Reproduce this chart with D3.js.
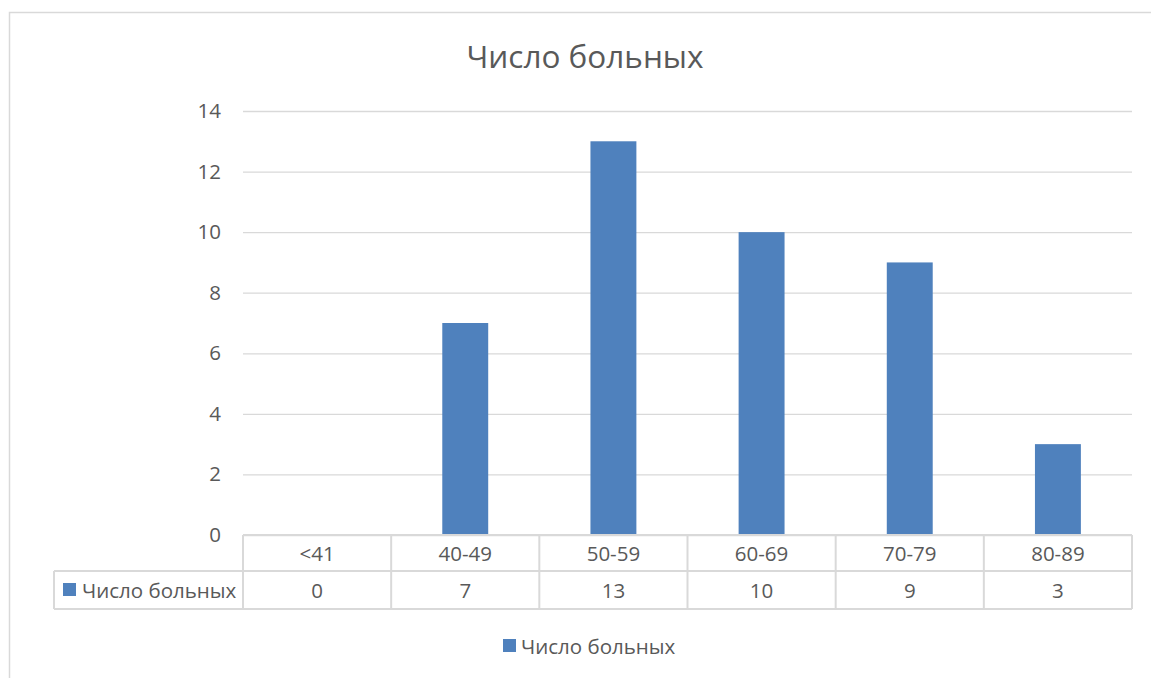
<!DOCTYPE html>
<html>
<head>
<meta charset="utf-8">
<script src="https://cdn.jsdelivr.net/npm/d3@7"></script>
<style>
  html, body { margin: 0; padding: 0; background: #fff; }
  svg { display: block; font-family: "Open Sans", "Noto Sans", sans-serif; }
</style>
</head>
<body>
<svg id="chart" width="1151" height="678"></svg>
<script>
// Age groups and patient counts
const categories = ["<41", "40-49", "50-59", "60-69", "70-79", "80-89"];
const patients = [0, 7, 13, 10, 9, 3];
const yTicks = [0, 2, 4, 6, 8, 10, 12, 14];
const seriesName = "Число больных";
const chartTitle = "Число больных";

const W = 1151, H = 678;
const plot = { left: 243, right: 1132, top: 111, bottom: 535 };
const tableRow1 = 571, tableRow2 = 609, tableLeft = 54;
const barColor = "#4f81bd";
const gridColor = "#d9d9d9";
const textColor = "#595959";
const labelSize = 20.5;

const svg = d3.select("#chart");

// Outer chart border
svg.append("rect")
  .attr("x", 9.5).attr("y", 12.5)
  .attr("width", W + 20).attr("height", H + 20)
  .attr("fill", "none").attr("stroke", gridColor).attr("stroke-width", 1.5);

const x = d3.scaleBand().domain(categories).range([plot.left, plot.right]).paddingInner(0.69).paddingOuter(0.345);
const xCell = d3.scaleBand().domain(categories).range([plot.left, plot.right]);
const y = d3.scaleLinear().domain([0, 14]).range([plot.bottom, plot.top]);

// Title
svg.append("text")
  .attr("x", 585).attr("y", 68)
  .attr("text-anchor", "middle")
  .attr("fill", textColor)
  .attr("font-size", 31.5)
  .text(chartTitle);

// Gridlines and y labels
const yAxis = d3.axisLeft(y).tickValues(yTicks).tickSize(-(plot.right - plot.left)).tickPadding(22);
const gy = svg.append("g").attr("transform", `translate(${plot.left},0)`).call(yAxis);
gy.select(".domain").remove();
gy.selectAll(".tick line").attr("stroke", gridColor).attr("stroke-width", 1.3);
gy.selectAll(".tick text").attr("fill", textColor).attr("font-size", labelSize).attr("font-family", "\"Open Sans\", sans-serif");

// Bars
svg.append("g").selectAll("rect")
  .data(patients)
  .join("rect")
  .attr("x", (d, i) => x(categories[i]))
  .attr("y", d => y(d))
  .attr("width", x.bandwidth())
  .attr("height", d => y(0) - y(d))
  .attr("fill", barColor);

// Data table
const tbl = svg.append("g").attr("stroke", gridColor).attr("stroke-width", 2).attr("fill", "none");
tbl.append("line").attr("x1", plot.left).attr("x2", plot.right).attr("y1", plot.bottom).attr("y2", plot.bottom);
tbl.append("line").attr("x1", tableLeft).attr("x2", plot.right).attr("y1", tableRow1).attr("y2", tableRow1);
tbl.append("line").attr("x1", tableLeft).attr("x2", plot.right).attr("y1", tableRow2).attr("y2", tableRow2);
tbl.append("line").attr("x1", tableLeft).attr("x2", tableLeft).attr("y1", tableRow1).attr("y2", tableRow2);
const edges = categories.map(c => xCell(c)).concat([plot.right]);
tbl.selectAll(".v").data(edges).join("line")
  .attr("x1", d => d).attr("x2", d => d)
  .attr("y1", plot.bottom).attr("y2", tableRow2);

const cellText = svg.append("g").attr("fill", textColor).attr("font-size", labelSize).attr("text-anchor", "middle");
cellText.selectAll(".cat").data(categories).join("text")
  .attr("x", d => xCell(d) + xCell.bandwidth() / 2)
  .attr("y", (plot.bottom + tableRow1) / 2 + 7.5)
  .text(d => d);
cellText.selectAll(".val").data(patients).join("text")
  .attr("x", (d, i) => xCell(categories[i]) + xCell.bandwidth() / 2)
  .attr("y", (tableRow1 + tableRow2) / 2 + 7.5)
  .text(d => d);

// Legend key inside table
svg.append("rect").attr("x", 63).attr("y", 583).attr("width", 13).attr("height", 13).attr("fill", barColor);
svg.append("text").attr("x", 82).attr("y", 597.5).attr("fill", textColor).attr("font-size", labelSize).text(seriesName);

// Bottom legend
svg.append("rect").attr("x", 503).attr("y", 639).attr("width", 13).attr("height", 13).attr("fill", barColor);
svg.append("text").attr("x", 521).attr("y", 653.5).attr("fill", textColor).attr("font-size", labelSize).text(seriesName);
</script>
</body>
</html>
